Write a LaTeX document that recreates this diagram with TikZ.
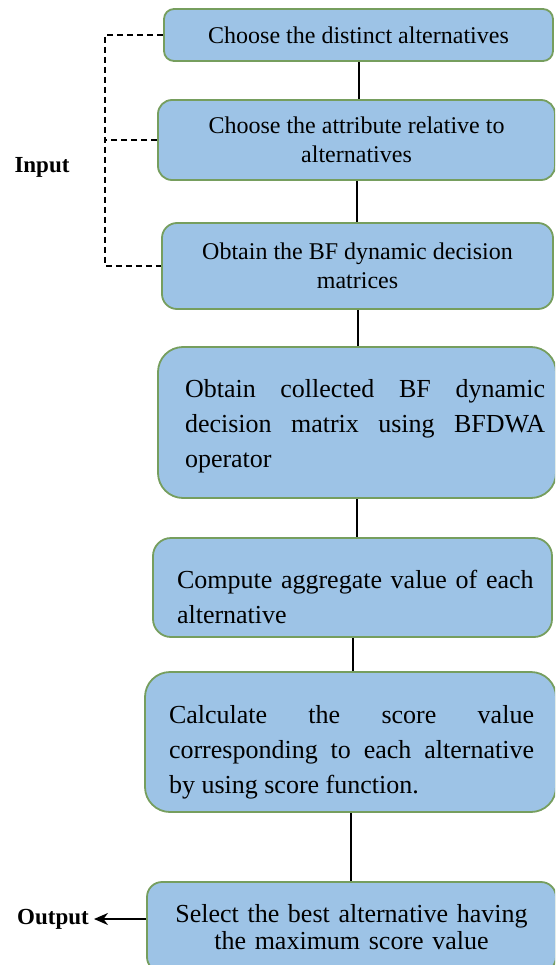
\documentclass[tikz,border=0pt]{standalone}
\usepackage{fontspec}
\setmainfont{Liberation Serif}
\usetikzlibrary{arrows.meta}
\definecolor{boxfill}{RGB}{157,195,230}
\definecolor{boxline}{RGB}{118,158,94}
\setlength\parindent{0pt}
\newcommand\smallbx{\fontsize{24}{29}\selectfont}
\newcommand\largebx{\fontsize{26}{35}\selectfont}
\newcommand\labfont{\fontsize{23}{27}\selectfont\bfseries}
\begin{document}
\begin{tikzpicture}[x=1pt,y=-1pt,
  box/.style={draw=boxline, line width=1.8pt, fill=boxfill, rounded corners=#1, inner sep=0pt},
  box/.default=10pt,
  txt/.style={font=\largebx, inner sep=0pt},
  conn/.style={draw=black, line width=2pt},
  dashedline/.style={draw=black, line width=1.8pt, dash pattern=on 6pt off 4pt},
  lab/.style={font=\labfont, inner sep=2pt}]
\useasboundingbox (0,0) rectangle (555,965);
\clip (0,0) rectangle (555,965);

\node[box=10pt, minimum width=389pt, minimum height=52pt, font=\smallbx, align=center] (B1) at (358.5,35) {Choose the distinct alternatives};
\node[box=14pt, minimum width=397pt, minimum height=80pt, font=\smallbx, align=center] (B2) at (356.5,140) {Choose the attribute relative to\\alternatives};
\node[box=15pt, minimum width=391pt, minimum height=86pt, font=\smallbx, align=center] (B3) at (357.5,266) {Obtain the BF dynamic decision\\matrices};

\node[box=25pt, minimum width=398pt, minimum height=151pt] (B4) at (357,422.5) {};
\node[txt, text width=360pt, align=justify] (T4) at (365,426) {Obtain collected BF dynamic\linebreak decision matrix using BFDWA\linebreak operator};

\node[box=18pt, minimum width=399pt, minimum height=99pt] (B5) at (352.5,587.5) {};
\node[txt, text width=360pt, align=left] (T5) at (357,597) {Compute aggregate value of each\\alternative};

\node[box=25pt, minimum width=411pt, minimum height=140pt] (B6) at (350.5,742) {};
\node[txt, text width=365pt, align=justify] (T6) at (351.5,752) {Calculate the score value\linebreak corresponding to each alternative\linebreak by using score function.};

\node[box=15pt, minimum width=409pt, minimum height=90pt, font=\fontsize{26}{27}\selectfont, text width=400pt, align=center] (B7) at (351.5,927) {Select the best alternative having\\the maximum score value\par\vspace*{16pt}};

\node[lab] (In) at (42,167) {Input};
\node[lab] (Out) at (53,919) {Output};
\coordinate (L) at (105,0);

\draw[conn] (B1.south) -- (B1.south |- B2.north);
\draw[conn] (B2.south) -- (B2.south |- B3.north);
\draw[conn] (B3.south) -- (B3.south |- B4.north);
\draw[conn] (B4.south) -- (B4.south |- B5.north);
\draw[conn] (B5.south) -- (B5.south |- B6.north);
\draw[conn] (B6.south) -- (B6.south |- B7.north);

\draw[dashedline] (B1.west) -- (B1.west -| L) -- (B3.west -| L) -- (B3.west);
\draw[dashedline] (B2.west) -- (B2.west -| L);

\draw[conn, -{Stealth[length=14pt,width=12pt]}] (B7.west |- Out.east) -- ([xshift=3pt]Out.east);
\end{tikzpicture}
\end{document}
